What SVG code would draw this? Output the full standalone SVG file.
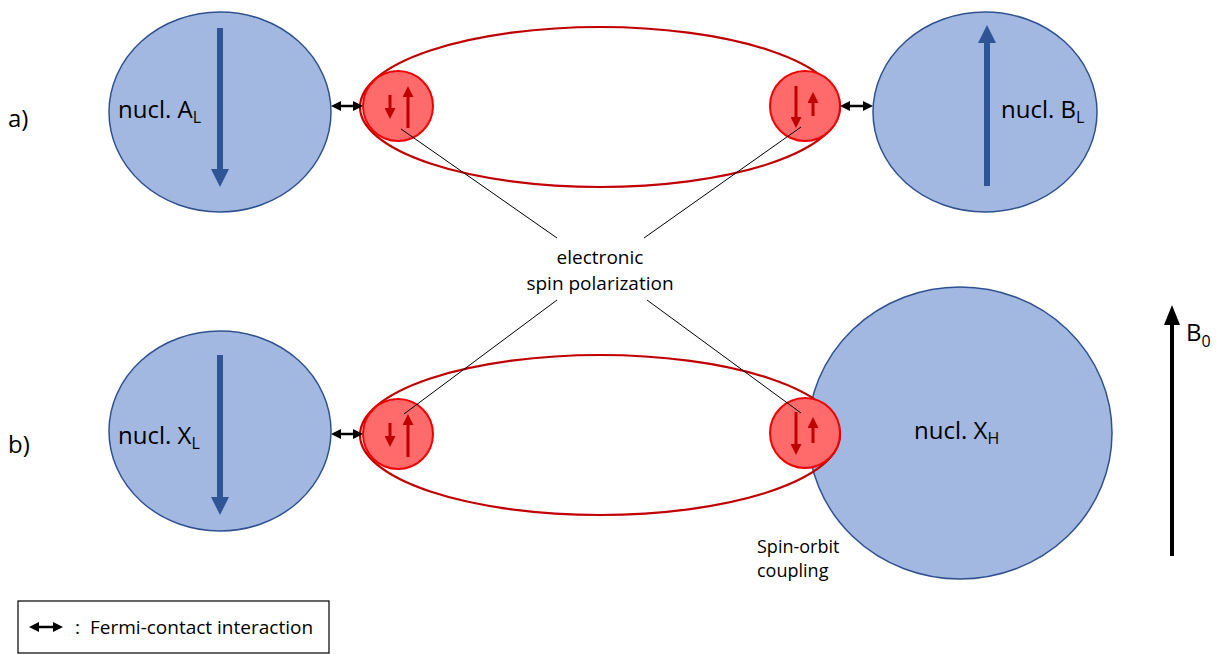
<svg xmlns="http://www.w3.org/2000/svg" width="1227" height="654" viewBox="0 0 1227 654">
<defs>
<style>
.nuc{fill:#A2B8E1;stroke:#2F528F;stroke-width:1.5}
.orb{fill:none;stroke:#C00000;stroke-width:2.2}
.el{fill:#FF6B6B;stroke:#F00000;stroke-width:2}
.big{stroke:#2F5597;stroke-width:6;marker-end:url(#hb)}
.sp{stroke:#C00000;stroke-width:3;marker-end:url(#hr)}
.fc{stroke:#000;stroke-width:2.5;marker-start:url(#hk);marker-end:url(#hk)}
.ln{stroke:#000;stroke-width:1}
text{font-family:"Open Sans","Liberation Sans",sans-serif;fill:#000}
.t{font-size:24px}
.sub{font-size:16px}
.s{font-size:18px}
.m{font-size:19px}
</style>
<marker id="hb" markerUnits="userSpaceOnUse" viewBox="0 0 18 18" markerWidth="18" markerHeight="18" refX="0" refY="9" orient="auto"><path d="M0,0 L18,9 L0,18 z" fill="#2F5597"/></marker>
<marker id="hr" markerUnits="userSpaceOnUse" viewBox="0 0 11 11" markerWidth="11" markerHeight="11" refX="0" refY="5.5" orient="auto"><path d="M0,0 L11,5.5 L0,11 z" fill="#C00000"/></marker>
<marker id="hk" markerUnits="userSpaceOnUse" viewBox="0 0 10 10" markerWidth="10" markerHeight="10" refX="1" refY="5" orient="auto-start-reverse"><path d="M0,0 L10,5 L0,10 z" fill="#000"/></marker>
<marker id="hB" markerUnits="userSpaceOnUse" viewBox="0 0 20 16" markerWidth="20" markerHeight="16" refX="0" refY="8" orient="auto"><path d="M0,0 L20,8 L0,16 z" fill="#000"/></marker>
</defs>

<g id="nucA">
<ellipse class="nuc" cx="220" cy="112" rx="111" ry="100"/>
<line class="big" x1="220" y1="28" x2="220" y2="169"/>
<text class="t" x="118" y="118">nucl. A<tspan class="sub" dy="5">L</tspan></text>
</g>
<g id="nucB">
<ellipse class="nuc" cx="985" cy="112" rx="112" ry="100"/>
<line class="big" x1="987" y1="186" x2="987" y2="43"/>
<text class="t" x="1001" y="118">nucl. B<tspan class="sub" dy="5">L</tspan></text>
</g>
<g id="orbitA"><ellipse class="orb" cx="600" cy="107" rx="240" ry="80"/></g>
<g id="elA1">
<circle class="el" cx="398" cy="106" r="35"/>
<line class="sp" x1="390" y1="95" x2="390" y2="108"/>
<line class="sp" x1="408" y1="128" x2="408" y2="97"/>
</g>
<g id="elA2">
<circle class="el" cx="805" cy="106" r="35"/>
<line class="sp" x1="796" y1="86" x2="796" y2="117"/>
<line class="sp" x1="813" y1="116" x2="813" y2="103"/>
</g>

<g id="nucXL">
<ellipse class="nuc" cx="220" cy="431" rx="111" ry="100"/>
<line class="big" x1="220" y1="355" x2="220" y2="497"/>
<text class="t" x="118" y="444">nucl. X<tspan class="sub" dy="5">L</tspan></text>
</g>
<g id="nucXH">
<ellipse class="nuc" cx="960" cy="433" rx="152" ry="146"/>
<text class="t" x="914" y="439">nucl. X<tspan class="sub" dy="5">H</tspan></text>
</g>
<g id="orbitB"><ellipse class="orb" cx="600" cy="435" rx="240" ry="80"/></g>
<g id="elB1">
<circle class="el" cx="398" cy="434" r="35"/>
<line class="sp" x1="390" y1="423" x2="390" y2="436"/>
<line class="sp" x1="408" y1="457" x2="408" y2="425"/>
</g>
<g id="elB2">
<circle class="el" cx="805" cy="433" r="35"/>
<line class="sp" x1="796" y1="412" x2="796" y2="444"/>
<line class="sp" x1="813" y1="443" x2="813" y2="428"/>
</g>

<g id="connectors">
<line class="fc" x1="340" y1="106" x2="354" y2="106"/>
<line class="fc" x1="849" y1="106" x2="864" y2="106"/>
<line class="fc" x1="340" y1="434" x2="354" y2="434"/>
<line class="ln" x1="401" y1="129" x2="557" y2="238"/>
<line class="ln" x1="801" y1="127" x2="644" y2="238"/>
<line class="ln" x1="557" y1="300" x2="404" y2="414"/>
<line class="ln" x1="647" y1="300" x2="801" y2="413"/>
</g>

<g id="label">
<text class="m" x="600" y="264" text-anchor="middle">electronic</text>
<text class="m" x="600" y="290" text-anchor="middle">spin polarization</text>
</g>
<text class="t" x="8" y="127">a)</text>
<text class="t" x="8" y="453">b)</text>
<g id="soc">
<text class="s" x="757" y="553">Spin-orbit</text>
<text class="s" x="757" y="577">coupling</text>
</g>
<g id="B0">
<line stroke="#000" stroke-width="4" x1="1172" y1="556" x2="1172" y2="325" marker-end="url(#hB)"/>
<text class="t" x="1186" y="341">B<tspan class="sub" dy="6">0</tspan></text>
</g>
<g id="legend">
<rect x="18" y="601" width="311" height="52" fill="#fff" stroke="#000" stroke-width="1.2"/>
<line class="fc" x1="38" y1="627" x2="54" y2="627"/>
<text class="m" x="75" y="634">:</text>
<text class="m" x="90" y="634">Fermi-contact interaction</text>
</g>
</svg>
